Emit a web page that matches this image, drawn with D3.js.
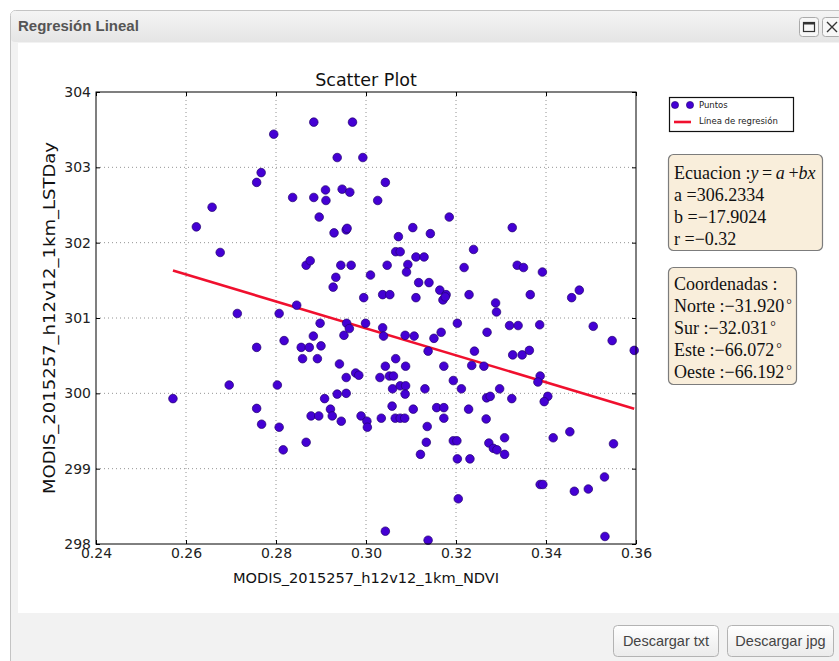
<!DOCTYPE html>
<html>
<head>
<meta charset="utf-8">
<script src="https://cdn.jsdelivr.net/npm/d3@7"></script>
<style>
    body { margin: 0; background: #fff; }
    svg { display: block; }
</style>
</head>
<body>
<svg id="chart" width="839" height="661"></svg>
<script>
// scatter data (NDVI vs LST day)
const ndvi = [
    0.2884, 0.2970, 0.2795, 0.2936, 0.2993, 0.2767, 0.2757, 0.2658, 0.2623, 0.2676,
    0.2837, 0.2884, 0.2910, 0.2911, 0.2947, 0.2964, 0.2896, 0.2929, 0.2956, 0.2958,
    0.2867, 0.2876, 0.2944, 0.2967, 0.2933, 0.2927, 0.2995, 0.2846, 0.2714, 0.2807,
    0.3043, 0.3026, 0.3185, 0.3104, 0.3072, 0.3143, 0.3325, 0.3066, 0.3076, 0.3239,
    0.3047, 0.3093, 0.3090, 0.3111, 0.3129, 0.3010, 0.3218, 0.3336, 0.3350, 0.3392,
    0.3117, 0.3140, 0.3164, 0.3178, 0.3171, 0.3176, 0.3037, 0.3053, 0.3111, 0.3229,
    0.3365, 0.3288, 0.3290, 0.3457, 0.3474,
    0.2898, 0.2957, 0.2963, 0.2999, 0.2883, 0.2951, 0.2818, 0.2757, 0.2856, 0.2874,
    0.2900, 0.2859, 0.2892, 0.2941, 0.2977, 0.2984, 0.2956, 0.2696, 0.2803, 0.2571,
    0.2936, 0.2956, 0.2908, 0.2757, 0.2921, 0.2925, 0.2878, 0.2895, 0.2945, 0.2989,
    0.3002, 0.3003, 0.2768, 0.2807, 0.2867, 0.2816,
    0.3203, 0.3037, 0.3039, 0.3087, 0.3107, 0.3151, 0.3167, 0.3138, 0.3269, 0.3319,
    0.3338, 0.3386, 0.3505, 0.3547, 0.3596, 0.3241, 0.3326, 0.3347, 0.3363, 0.3066,
    0.3043, 0.3088, 0.3173, 0.3235, 0.3262, 0.3031, 0.3052, 0.3061, 0.3387, 0.3382,
    0.3194, 0.3059, 0.3076, 0.3088, 0.3087, 0.3131, 0.3212, 0.3297, 0.3268, 0.3276,
    0.3324, 0.3404, 0.3396, 0.3058, 0.3105, 0.3157, 0.3173, 0.3228, 0.3034, 0.3065,
    0.3076, 0.3086, 0.3173, 0.3267, 0.3136, 0.3134, 0.3121, 0.3194, 0.3202, 0.3203,
    0.3231, 0.3273, 0.3283, 0.3291, 0.3308, 0.3308, 0.3416, 0.3453, 0.3550, 0.3387,
    0.3393, 0.3463, 0.3494, 0.3530, 0.3205, 0.3043, 0.3138, 0.3531
];
const lst = [
    303.60, 303.60, 303.44, 303.13, 303.13, 302.93, 302.80, 302.47, 302.21, 301.87,
    302.60, 302.60, 302.70, 302.56, 302.71, 302.67, 302.34, 302.13, 302.17, 302.19,
    301.70, 301.76, 301.70, 301.70, 301.54, 301.41, 301.27, 301.17, 301.06, 301.06,
    302.80, 302.56, 302.34, 302.20, 302.08, 302.12, 302.20, 301.88, 301.88, 301.91,
    301.70, 301.71, 301.61, 301.81, 301.81, 301.57, 301.67, 301.70, 301.67, 301.61,
    301.47, 301.47, 301.37, 301.31, 301.24, 301.28, 301.31, 301.31, 301.27, 301.31,
    301.31, 301.20, 301.08, 301.27, 301.37,
    300.93, 300.93, 300.86, 300.93, 300.76, 300.77, 300.70, 300.61, 300.61, 300.61,
    300.63, 300.46, 300.46, 300.39, 300.27, 300.24, 300.21, 300.11, 300.11, 299.93,
    299.99, 300.00, 299.93, 299.80, 299.79, 299.70, 299.70, 299.70, 299.63, 299.70,
    299.63, 299.55, 299.59, 299.55, 299.35, 299.25,
    300.93, 300.87, 300.76, 300.77, 300.76, 300.73, 300.81, 300.56, 300.81, 300.90,
    300.90, 300.91, 300.89, 300.70, 300.57, 300.56, 300.51, 300.51, 300.57, 300.46,
    300.36, 300.36, 300.36, 300.37, 300.36, 300.21, 300.23, 300.23, 300.23, 300.15,
    300.17, 300.06, 300.10, 300.10, 299.99, 300.06, 300.06, 300.06, 299.94, 299.96,
    299.93, 299.96, 299.89, 299.83, 299.79, 299.81, 299.81, 299.79, 299.67, 299.67,
    299.67, 299.67, 299.67, 299.66, 299.56, 299.35, 299.19, 299.37, 299.37, 299.13,
    299.13, 299.34, 299.27, 299.25, 299.41, 299.19, 299.41, 299.49, 299.33, 298.79,
    298.79, 298.70, 298.73, 298.89, 298.60, 298.17, 298.05, 298.10
];
const xTicks = [0.24, 0.26, 0.28, 0.30, 0.32, 0.34, 0.36];
const yTicks = [298, 299, 300, 301, 302, 303, 304];
const regA = 306.2334, regB = -17.9024, regR = -0.32;
const coordNames = ["Norte", "Sur", "Este", "Oeste"];
const coordValues = [-31.920, -32.031, -66.072, -66.192];
const legendLabels = ["Puntos", "Línea de regresión"];
const buttonLabels = ["Descargar txt", "Descargar jpg"];

const svg = d3.select("#chart");
const defs = svg.append("defs");

// gradients for title bar and buttons
const tg = defs.append("linearGradient").attr("id", "titleGrad").attr("x1", 0).attr("y1", 0).attr("x2", 0).attr("y2", 1);
tg.append("stop").attr("offset", "0%").attr("stop-color", "#f4f4f4");
tg.append("stop").attr("offset", "100%").attr("stop-color", "#e5e5e5");
const bg = defs.append("linearGradient").attr("id", "btnGrad").attr("x1", 0).attr("y1", 0).attr("x2", 0).attr("y2", 1);
bg.append("stop").attr("offset", "0%").attr("stop-color", "#ffffff");
bg.append("stop").attr("offset", "100%").attr("stop-color", "#ebebeb");

// window frame
svg.append("rect")
    .attr("x", 10.5).attr("y", 10.5).attr("width", 840).attr("height", 660).attr("rx", 5)
    .attr("fill", "#f2f2f2").attr("stroke", "#c4c4c4");
svg.append("rect")
    .attr("x", 11).attr("y", 11).attr("width", 830).attr("height", 31).attr("rx", 4)
    .attr("fill", "url(#titleGrad)");
svg.append("rect")
    .attr("x", 18).attr("y", 43).attr("width", 821).attr("height", 570)
    .attr("fill", "#ffffff");
svg.append("text")
    .attr("x", 18).attr("y", 31)
    .attr("font-family", "Liberation Sans, Arial, sans-serif")
    .attr("font-weight", "bold").attr("font-size", "15px").attr("fill", "#555")
    .text("Regresión Lineal");

// window buttons (maximize / close)
const winBtn = svg.append("g");
winBtn.selectAll("rect.wb")
    .data([799.5, 822.5])
    .join("rect")
    .attr("class", "wb")
    .attr("x", d => d).attr("y", 17.5).attr("width", 19).attr("height", 19).attr("rx", 3)
    .attr("fill", "#f7f7f7").attr("stroke", "#aaa");
winBtn.append("rect")
    .attr("x", 803.5).attr("y", 22.5).attr("width", 11).attr("height", 9)
    .attr("fill", "none").attr("stroke", "#333").attr("stroke-width", 1.2);
winBtn.append("line")
    .attr("x1", 803.5).attr("x2", 814.5).attr("y1", 23.5).attr("y2", 23.5)
    .attr("stroke", "#333").attr("stroke-width", 2);
winBtn.append("path")
    .attr("d", "M827,22 L837,32 M837,22 L827,32")
    .attr("stroke", "#333").attr("stroke-width", 1.4);

// plot area
const plot = {left: 96, top: 92, right: 636, bottom: 544};
const x = d3.scaleLinear().domain([0.24, 0.36]).range([plot.left, plot.right]);
const y = d3.scaleLinear().domain([298, 304]).range([plot.bottom, plot.top]);

const chartFont = "DejaVu Sans, sans-serif";

// grid lines (dotted)
const grid = svg.append("g");
grid.selectAll("line.gx")
    .data(xTicks.slice(1, -1))
    .join("line")
    .attr("class", "gx")
    .attr("x1", d => x(d)).attr("x2", d => x(d))
    .attr("y1", plot.top).attr("y2", plot.bottom)
    .attr("stroke", "#777").attr("stroke-width", 0.8).attr("stroke-dasharray", "1,3");
grid.selectAll("line.gy")
    .data(yTicks.slice(1, -1))
    .join("line")
    .attr("class", "gy")
    .attr("y1", d => y(d)).attr("y2", d => y(d))
    .attr("x1", plot.left).attr("x2", plot.right)
    .attr("stroke", "#777").attr("stroke-width", 0.8).attr("stroke-dasharray", "1,3");

// regression line over the data range
const xExt = d3.extent(ndvi);
svg.append("line")
    .attr("x1", x(xExt[0])).attr("y1", y(regA + regB * xExt[0]))
    .attr("x2", x(xExt[1])).attr("y2", y(regA + regB * xExt[1]))
    .attr("stroke", "#f0102e").attr("stroke-width", 2.6);

// points
svg.append("g")
    .selectAll("circle")
    .data(ndvi.map((d, i) => ({x: d, y: lst[i]})))
    .join("circle")
    .attr("cx", d => x(d.x))
    .attr("cy", d => y(d.y))
    .attr("r", 4.3)
    .attr("fill", "#4400d4")
    .attr("stroke", "#22006e")
    .attr("stroke-width", 0.7);

// axes: ticks pointing inward on all four sides
function styleAxis(g) {
    g.select(".domain").remove();
    g.selectAll(".tick line").attr("stroke", "#000");
    g.selectAll(".tick text")
        .attr("font-family", chartFont).attr("font-size", "14px").attr("fill", "#222");
}
svg.append("g")
    .attr("transform", `translate(0,${plot.bottom})`)
    .call(d3.axisBottom(x).tickValues(xTicks).tickFormat(d3.format(".2f")).tickSizeInner(-4).tickSizeOuter(0).tickPadding(4))
    .call(styleAxis);
svg.append("g")
    .attr("transform", `translate(0,${plot.top})`)
    .call(d3.axisTop(x).tickValues(xTicks).tickFormat("").tickSizeInner(-4).tickSizeOuter(0))
    .call(styleAxis);
svg.append("g")
    .attr("transform", `translate(${plot.left},0)`)
    .call(d3.axisLeft(y).tickValues(yTicks).tickFormat(d3.format("d")).tickSizeInner(-4).tickSizeOuter(0).tickPadding(5))
    .call(styleAxis);
svg.append("g")
    .attr("transform", `translate(${plot.right},0)`)
    .call(d3.axisRight(y).tickValues(yTicks).tickFormat("").tickSizeInner(-4).tickSizeOuter(0))
    .call(styleAxis);

// axes frame
svg.append("rect")
    .attr("x", plot.left).attr("y", plot.top)
    .attr("width", plot.right - plot.left).attr("height", plot.bottom - plot.top)
    .attr("fill", "none").attr("stroke", "#000").attr("stroke-width", 1);

// titles
svg.append("text")
    .attr("x", (plot.left + plot.right) / 2).attr("y", 86)
    .attr("text-anchor", "middle")
    .attr("font-family", chartFont).attr("font-size", "17.5px").attr("fill", "#111")
    .text("Scatter Plot");
svg.append("text")
    .attr("x", (plot.left + plot.right) / 2).attr("y", 583)
    .attr("text-anchor", "middle")
    .attr("font-family", chartFont).attr("font-size", "14.6px").attr("fill", "#111")
    .text("MODIS_2015257_h12v12_1km_NDVI");
svg.append("text")
    .attr("transform", `translate(55,${(plot.top + plot.bottom) / 2}) rotate(-90)`)
    .attr("text-anchor", "middle")
    .attr("font-family", chartFont).attr("font-size", "16px").attr("fill", "#111")
    .attr("textLength", 352).attr("lengthAdjust", "spacingAndGlyphs")
    .text("MODIS_2015257_h12v12_1km_LSTDay");

// legend
const legend = svg.append("g");
legend.append("rect")
    .attr("x", 669.5).attr("y", 97.5).attr("width", 124).attr("height", 34)
    .attr("fill", "#fff").attr("stroke", "#111").attr("stroke-width", 1.2);
legend.selectAll("circle")
    .data([675, 690])
    .join("circle")
    .attr("cx", d => d).attr("cy", 105).attr("r", 3.6)
    .attr("fill", "#4400d4").attr("stroke", "#22006e").attr("stroke-width", 0.6);
legend.append("line")
    .attr("x1", 674).attr("x2", 691).attr("y1", 122).attr("y2", 122)
    .attr("stroke", "#f0102e").attr("stroke-width", 2.6);
legend.selectAll("text")
    .data(legendLabels)
    .join("text")
    .attr("x", 699).attr("y", (d, i) => 108 + i * 16)
    .attr("font-family", chartFont).attr("font-size", "8.5px").attr("fill", "#222")
    .text(d => d);

// text boxes
const serif = "Liberation Serif, Times New Roman, serif";
const fmt4 = d3.format(".4f"), fmt2 = d3.format(".2f"), fmt3 = d3.format(".3f");
function minus(s) { return s.replace("-", "\u2212"); }

function infoBox(bx, by, bw, bh) {
    svg.append("rect")
        .attr("x", bx).attr("y", by).attr("width", bw).attr("height", bh).attr("rx", 5)
        .attr("fill", "#f9eedb").attr("stroke", "#7c7c7c").attr("stroke-width", 1.2);
}

infoBox(668.5, 154.5, 154, 96);
const eq = svg.append("g")
    .attr("font-family", serif).attr("font-size", "18px").attr("fill", "#111");
const eqLine = eq.append("text").attr("x", 674).attr("y", 179);
eqLine.append("tspan").text("Ecuacion :");
eqLine.append("tspan").attr("font-style", "italic").text("y");
eqLine.append("tspan").text("\u2009=\u2009");
eqLine.append("tspan").attr("font-style", "italic").text("a");
eqLine.append("tspan").text("\u2009+");
eqLine.append("tspan").attr("font-style", "italic").text("bx");
eq.selectAll("text.v")
    .data([["a", fmt4(regA)], ["b", fmt4(regB)], ["r", fmt2(regR)]])
    .join("text")
    .attr("class", "v")
    .attr("x", 674).attr("y", (d, i) => 201 + i * 22)
    .text(d => d[0] + " =" + minus(d[1]));

infoBox(668.5, 267.5, 128, 117);
const co = svg.append("g")
    .attr("font-family", serif).attr("font-size", "18px").attr("fill", "#111");
co.append("text").attr("x", 674).attr("y", 290).text("Coordenadas :");
const coLines = co.selectAll("text.c")
    .data(coordNames.map((n, i) => ({name: n, value: coordValues[i]})))
    .join("text")
    .attr("class", "c")
    .attr("x", 674).attr("y", (d, i) => 312 + i * 22);
coLines.append("tspan").text(d => d.name + " :" + minus(fmt3(d.value)));
coLines.append("tspan").attr("dx", 2).attr("dy", -3).attr("font-size", "14px").text("\u00b0");

// bottom buttons
const btn = svg.append("g")
    .selectAll("g")
    .data(buttonLabels.map((t, i) => ({label: t, x: [613.5, 727.5][i], w: [105, 106][i]})))
    .join("g");
btn.append("rect")
    .attr("x", d => d.x).attr("y", 625.5).attr("width", d => d.w).attr("height", 31).attr("rx", 4)
    .attr("fill", "url(#btnGrad)").attr("stroke", "#b3b3b3");
btn.append("text")
    .attr("x", d => d.x + d.w / 2).attr("y", 646)
    .attr("text-anchor", "middle")
    .attr("font-family", "Liberation Sans, Arial, sans-serif").attr("font-size", "14.5px").attr("fill", "#444")
    .text(d => d.label);
</script>
</body>
</html>
